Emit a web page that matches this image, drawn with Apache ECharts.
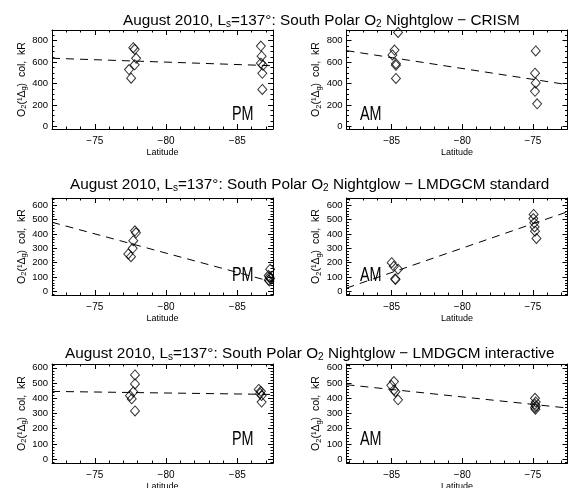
<!DOCTYPE html>
<html><head><meta charset="utf-8">
<script src="https://cdn.jsdelivr.net/npm/echarts@6/dist/echarts.min.js"></script>
<style>html,body{margin:0;padding:0;background:#fff}#c{width:578px;height:488px}</style>
</head><body><div id="c"></div>
<script>
// ---------- data ----------
const rowTitles = ['CRISM', 'LMDGCM standard', 'LMDGCM interactive'];
const panelTags = ['PM', 'AM', 'PM', 'AM', 'PM', 'AM'];
const xMajorTicks = [-85, -80, -75];
const yTicksTop = [0, 200, 400, 600, 800];
const yTicksLow = [0, 100, 200, 300, 400, 500, 600];

// Panel 1: PM, CRISM
const p1Lat = [-77.7, -77.8, -77.9, -77.8, -77.4, -77.55, -86.65, -86.7, -86.65, -86.8, -86.75, -86.75];
const p1Val = [735, 720, 635, 575, 530, 450, 750, 655, 590, 570, 495, 345];
const p1FitLat = [-72, -87.5];
const p1FitVal = [636, 566];
// Panel 2: AM, CRISM
const p2Lat = [-84.55, -84.8, -84.95, -84.7, -84.7, -84.7, -74.8, -74.85, -74.8, -74.85, -74.7];
const p2Val = [877, 713, 667, 585, 570, 447, 704, 497, 405, 327, 210];
const p2FitLat = [-88.2, -72.55];
const p2FitVal = [707, 389];
// Panel 3: PM, LMDGCM standard
const p3Lat = [-77.82, -77.89, -77.7, -77.66, -77.35, -77.54, -87.3, -87.2, -87.25, -87.3, -87.2, -87.25];
const p3Val = [422, 408, 353, 300, 261, 242, 155, 110, 100, 90, 80, 72];
const p3FitLat = [-72, -87.5];
const p3FitVal = [481, 65];
// Panel 4: AM, LMDGCM standard
const p4Lat = [-85.0, -84.85, -84.55, -84.75, -84.73, -74.95, -74.97, -74.9, -74.88, -74.85, -74.75];
const p4Val = [200, 175, 155, 88, 82, 536, 507, 477, 449, 419, 369];
const p4FitLat = [-88.2, -72.55];
const p4FitVal = [23, 554];
// Panel 5: PM, LMDGCM interactive
const p5Lat = [-77.82, -77.82, -77.7, -77.47, -77.59, -77.82, -86.5, -86.65, -86.6, -86.7, -86.7];
const p5Val = [553, 494, 442, 417, 396, 317, 458, 446, 432, 418, 375];
const p5FitLat = [-72, -87.5];
const p5FitVal = [445, 425];
// Panel 6: AM, LMDGCM interactive
const p6Lat = [-84.84, -85.03, -84.84, -84.74, -84.55, -74.85, -74.8, -74.85, -74.8, -74.85, -74.82];
const p6Val = [510, 485, 455, 443, 390, 400, 375, 360, 348, 338, 328];
const p6FitLat = [-88.2, -72.55];
const p6FitVal = [489, 336];

const panels = [
  {lat: p1Lat, val: p1Val, fLat: p1FitLat, fVal: p1FitVal},
  {lat: p2Lat, val: p2Val, fLat: p2FitLat, fVal: p2FitVal},
  {lat: p3Lat, val: p3Val, fLat: p3FitLat, fVal: p3FitVal},
  {lat: p4Lat, val: p4Val, fLat: p4FitLat, fVal: p4FitVal},
  {lat: p5Lat, val: p5Val, fLat: p5FitLat, fVal: p5FitVal},
  {lat: p6Lat, val: p6Val, fLat: p6FitLat, fVal: p6FitVal}
];

// ---------- layout ----------
const FONT = 'Liberation Sans';
const gridPos = [
  {left: 52, top: 30, width: 221, height: 99},
  {left: 346.5, top: 30, width: 221, height: 99},
  {left: 52, top: 198, width: 221, height: 97},
  {left: 346.5, top: 198, width: 221, height: 97},
  {left: 52, top: 364, width: 221, height: 99},
  {left: 346.5, top: 364, width: 221, height: 99}
];
const xRangeL = [-87.5, -72];
const xRangeR = [-88.2, -72.55];
const yRangeTop = [-25, 900];
const yRangeMid = [-25, 650];
const yRangeBot = [-25, 625];
const titlePos = [{left: 123, top: 11.5}, {left: 70, top: 175.5}, {left: 65, top: 344.5}];
const tagPos = [[232, 114.5], [360, 114.5], [232, 275], [360, 275], [232, 439.5], [360, 439.5]];

function minorVals(lo, hi, step, majors) {
  const out = [];
  for (let v = Math.ceil(lo / step) * step; v <= hi + 1e-9; v += step) {
    const r = Math.round(v * 1000) / 1000;
    if (!majors.some(m => Math.abs(m - r) < 1e-6)) out.push(r);
  }
  return out;
}
const lbl = v => (v < 0 ? '\u2212' + Math.abs(v) : String(v));

const grids = [], xAxes = [], yAxes = [], series = [], titles = [], graphics = [];
const black = {color: '#000', width: 1};

panels.forEach((p, i) => {
  const isLeft = i % 2 === 0;
  const row = Math.floor(i / 2);
  grids.push(Object.assign({show: false, containLabel: false, outerBoundsMode: 'none'}, gridPos[i]));
  const xr = isLeft ? xRangeL : xRangeR;
  const yr = row === 0 ? yRangeTop : (row === 1 ? yRangeMid : yRangeBot);
  const yMaj = row === 0 ? yTicksTop : yTicksLow;
  const yMin = minorVals(yr[0], yr[1], row === 0 ? 50 : 20, yMaj);
  const xMin = minorVals(xr[0], xr[1], 1, xMajorTicks);
  const xBase = {gridIndex: i, type: 'value', min: xr[0], max: xr[1], inverse: isLeft, splitLine: {show: false}};
  const yBase = {gridIndex: i, type: 'value', min: yr[0], max: yr[1], splitLine: {show: false}};
  ['bottom', 'top'].forEach(pos => {
    xAxes.push(Object.assign({}, xBase, {
      position: pos,
      axisLine: {show: true, onZero: false, lineStyle: black},
      axisTick: {show: true, inside: true, length: 5, customValues: xMajorTicks, lineStyle: black},
      axisLabel: pos === 'bottom' ? {show: true, customValues: xMajorTicks, formatter: lbl, margin: 7,
        color: '#000', fontSize: 10, fontFamily: FONT} : {show: false},
      name: pos === 'bottom' ? 'Latitude' : '',
      nameLocation: 'middle', nameGap: 19,
      nameTextStyle: {color: '#000', fontSize: 9, fontFamily: FONT}
    }));
    xAxes.push(Object.assign({}, xBase, {
      position: pos,
      axisLine: {show: false, onZero: false},
      axisTick: {show: true, inside: true, length: 2.5, customValues: xMin, lineStyle: black},
      axisLabel: {show: false}
    }));
  });
  ['left', 'right'].forEach(pos => {
    yAxes.push(Object.assign({}, yBase, {
      position: pos,
      axisLine: {show: true, onZero: false, lineStyle: black},
      axisTick: {show: true, inside: true, length: 5, customValues: yMaj, lineStyle: black},
      axisLabel: pos === 'left' ? {show: true, customValues: yMaj, margin: 4,
        color: '#000', fontSize: 9.5, fontFamily: FONT} : {show: false},
      name: pos === 'left' ? 'O{s|2}(\u00B9\u0394{s|g})  col,  kR' : '',
      nameLocation: 'middle', nameGap: 20, nameRotate: 90,
      nameTextStyle: {color: '#000', fontSize: 10.5, fontFamily: FONT, lineHeight: 13,
        rich: {s: {fontSize: 7.5, fontFamily: FONT, color: '#000', lineHeight: 6, verticalAlign: 'bottom'}}}
    }));
    yAxes.push(Object.assign({}, yBase, {
      position: pos,
      axisLine: {show: false, onZero: false},
      axisTick: {show: true, inside: true, length: 2.5, customValues: yMin, lineStyle: black},
      axisLabel: {show: false}
    }));
  });
  series.push({
    type: 'line', xAxisIndex: i * 4, yAxisIndex: i * 4, silent: true,
    data: p.fLat.map((x, k) => [x, p.fVal[k]]),
    showSymbol: false, symbol: 'none',
    lineStyle: {color: '#000', width: 1, type: [8, 6]}
  });
  series.push({
    type: 'scatter', xAxisIndex: i * 4, yAxisIndex: i * 4, silent: true, clip: true,
    data: p.lat.map((x, k) => [x, p.val[k]]),
    symbol: 'diamond', symbolSize: [9, 10],
    itemStyle: {color: 'rgba(0,0,0,0)', borderColor: '#000', borderWidth: 1}
  });
  graphics.push({
    type: 'text', x: tagPos[i][0], y: tagPos[i][1], scaleX: 0.72, silent: true,
    style: {text: panelTags[i], x: 0, y: 0, fill: '#000', fontSize: 20, fontFamily: FONT,
      align: 'left', verticalAlign: 'middle'}
  });
});

rowTitles.forEach((t, r) => {
  titles.push({
    text: '{t|August 2010, L}{s|s}{t|=137\u00B0: South Polar O}{s|2}{t| Nightglow \u2212 ' + t + '}',
    left: titlePos[r].left, top: titlePos[r].top, padding: 0, itemGap: 0,
    textStyle: {color: '#000', fontSize: 15.3, fontWeight: 'normal', fontFamily: FONT,
      rich: {
        t: {fontSize: 15.3, fontFamily: FONT, color: '#000', lineHeight: 18},
        s: {fontSize: 10, fontFamily: FONT, color: '#000', lineHeight: 8, verticalAlign: 'bottom'}
      }}
  });
});

const chart = echarts.init(document.getElementById('c'), null, {renderer: 'canvas'});
chart.setOption({
  animation: false,
  backgroundColor: '#fff',
  title: titles,
  grid: grids,
  xAxis: xAxes,
  yAxis: yAxes,
  series: series,
  graphic: graphics
});
</script></body></html>
